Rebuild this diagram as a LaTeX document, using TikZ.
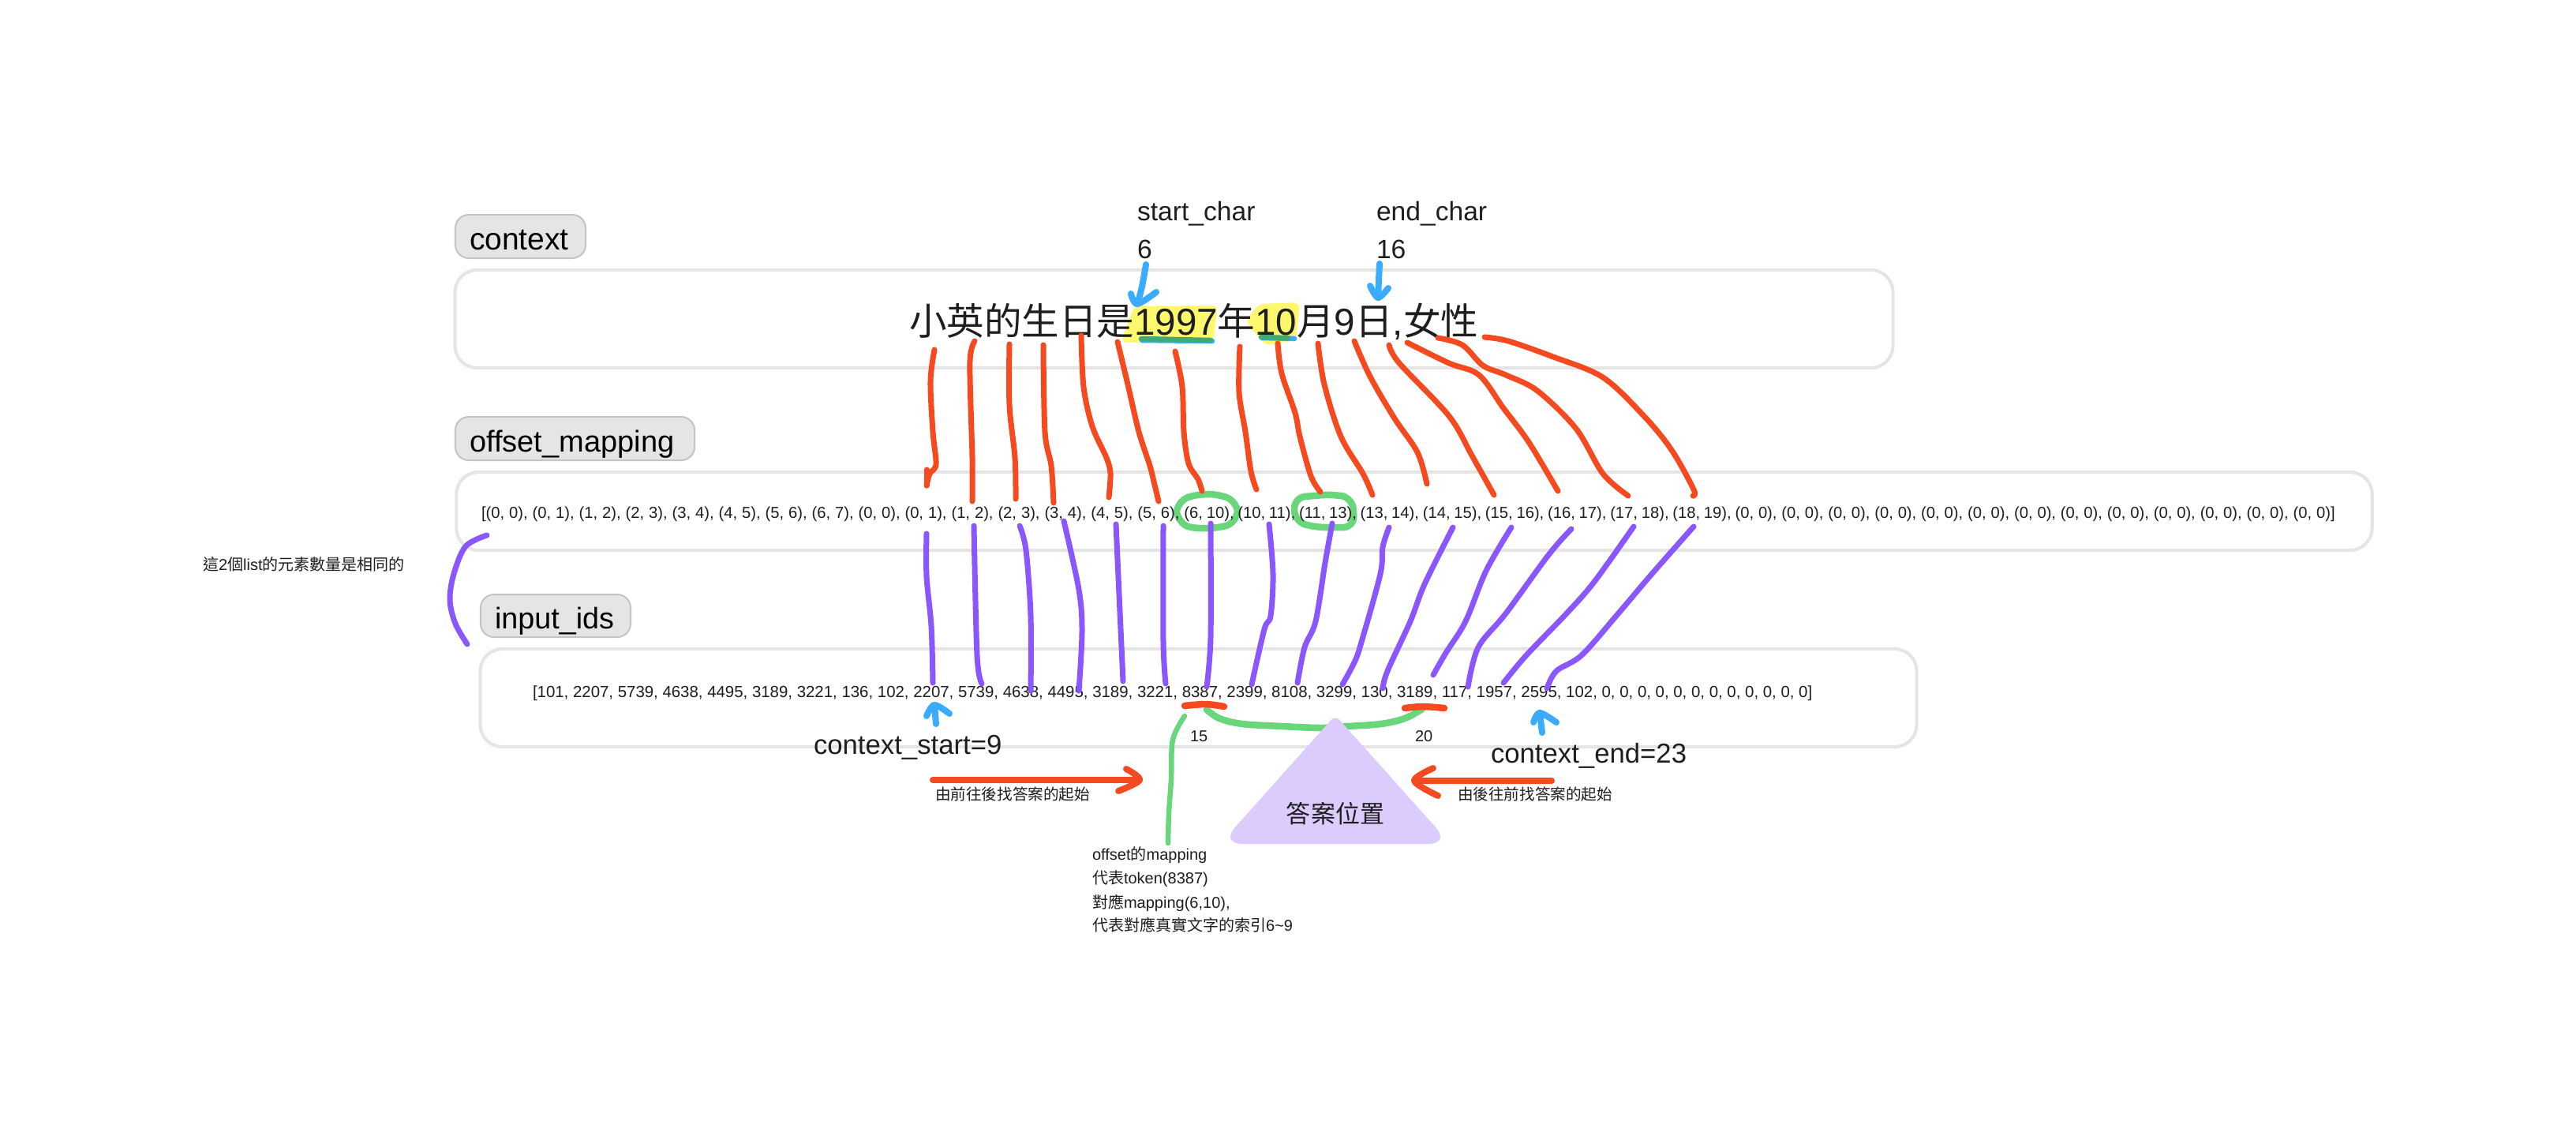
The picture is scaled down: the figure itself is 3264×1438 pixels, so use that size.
\documentclass[tikz,border=0pt]{standalone}
\usepackage{fontspec}
\setmainfont{Liberation Sans}
\newfontfamily\cjk{Noto Sans CJK TC}
\newcommand\fpx[1]{\fontsize{\fpeval{#1*0.28453}}{\fpeval{#1*0.3}}\selectfont}
\definecolor{ink}{HTML}{1E1E1E}
\definecolor{panelline}{HTML}{E5E5E5}
\definecolor{tagline}{HTML}{C4C4C4}
\definecolor{inkred}{HTML}{F54A20}
\definecolor{inkpurple}{HTML}{8A57FF}
\definecolor{inkblue}{HTML}{3BABFF}
\definecolor{inkgreen}{HTML}{69D67B}
\definecolor{inkteal}{HTML}{3FAA75}
\definecolor{marker}{HTML}{FFF86E}
\definecolor{tri}{HTML}{DCCCFE}
\tikzset{
  panel/.style={draw=panelline,line width=0.04cm,rounded corners=0.28cm,fill=white,inner sep=0pt,outer sep=0pt},
  tagbox/.style={draw=tagline,line width=0.02cm,rounded corners=0.17cm,fill=panelline,inner sep=0pt,outer sep=0pt},
  lab/.style={anchor=base west,inner sep=0pt,outer sep=0pt,text=ink},
  stroke/.style={line width=0.07cm,line cap=round,line join=round},
  redline/.style={stroke,draw=inkred},
  redmark/.style={stroke,draw=inkred,line width=0.085cm},
  purpleline/.style={stroke,draw=inkpurple},
  blueline/.style={stroke,draw=inkblue,line width=0.08cm},
  greenline/.style={stroke,draw=inkgreen,line width=0.085cm},
  ink curve/.style={smooth,tension=0.55},
}
\begin{document}
\begin{tikzpicture}[x=0.01cm,y=-0.01cm]
\useasboundingbox (0,0) rectangle (3264,1438);
\fill[white] (0,0) rectangle (3264,1438);

% panels
\node[panel,minimum width=18.21cm,minimum height=1.24cm] (ctxbox) at (1487.5,404) {};
\node[panel,minimum width=24.26cm,minimum height=0.99cm] (mapbox) at (1792,647.5) {};
\node[panel,minimum width=18.19cm,minimum height=1.24cm] (idsbox) at (1518.5,884) {};

% tags
\node[tagbox,minimum width=1.65cm,minimum height=0.55cm] (ctxtag) at (659.5,299.5) {};
\node[tagbox,minimum width=3.03cm,minimum height=0.55cm] (maptag) at (728.5,555.5) {};
\node[tagbox,minimum width=1.90cm,minimum height=0.54cm] (idstag) at (704,780) {};
\node[lab,text=black,font=\fpx{39}] (ctxlab) at (595,316) {context};
\node[lab,text=black,font=\fpx{38}] (maplab) at (595,572) {offset\_mapping};
\node[lab,text=black,font=\fpx{37.7}] (idslab) at (627,796) {input\_ids};

% highlights
\fill[marker,rounded corners=0.08cm] (1437,388) -- (1543,387) -- (1537,433) -- (1420,434) -- cycle;
\fill[marker,rounded corners=0.08cm] (1595,385) -- (1647,383) -- (1642,430) -- (1604,438) -- (1578,407) -- cycle;
\draw[stroke,draw=inkblue,line width=0.065cm] (1447,431) -- (1536,432);
\draw[stroke,draw=inkblue,line width=0.065cm] (1599,428) -- (1640,429);
\draw[stroke,draw=inkteal,line width=0.065cm] (1446,429) -- (1534,431);
\draw[stroke,draw=inkteal,line width=0.065cm] (1598,427) -- (1632,428);

% main sentence
\node[lab,font=\fpx{47.5}] (sentence) at (1152,424) {{\cjk 小英的生日是}1997{\cjk 年}10{\cjk 月}9{\cjk 日},{\cjk 女性}};

% small labels on top
\node[lab,font=\fpx{33.6}] (startchar) at (1441,279) {start\_char};
\node[lab,font=\fpx{33.6}] (startval) at (1441,327) {6};
\node[lab,font=\fpx{33.6}] (endchar) at (1744,279) {end\_char};
\node[lab,font=\fpx{33.6}] (endval) at (1744,327) {16};

% green: curve under triangle, rings, leader
\draw[greenline] plot[ink curve] coordinates {(1529,899) (1545,910) (1574,917) (1625,920) (1673,922) (1708,920) (1750,917) (1780,910) (1802,898)};
\draw[greenline,line width=0.065cm] plot[ink curve] coordinates {(1501,907) (1486,937) (1484,987) (1481,1030) (1480,1068)};
\draw[greenline] plot[ink curve,smooth cycle] coordinates {(1532,626) (1558,632) (1568,648) (1558,664) (1532,669) (1503,666) (1491,648) (1503,631)};
\draw[greenline,rounded corners=0.14cm] (1640,630) -- (1690,626) -- (1714,631) -- (1716,668) -- (1665,668) -- (1640,660) -- cycle;

% lists
\node[lab,font=\fpx{20.2}] (maptext) at (610,656) {{\spaceskip=1.68pt [(0, 0), (0, 1), (1, 2), (2, 3), (3, 4), (4, 5), (5, 6), (6, 7), (0, 0), (0, 1), (1, 2), (2, 3), (3, 4), (4, 5), (5, 6), }{\spaceskip=1.35pt (6, 10), (10, 11), (11, 13), (13, 14), (14, 15), (15, 16), (16, 17), (17, 18), (18, 19), }{\spaceskip=1.67pt (0, 0), (0, 0), (0, 0), (0, 0), (0, 0), (0, 0), (0, 0), (0, 0), (0, 0), (0, 0), (0, 0), (0, 0), (0, 0)]}};
\node[lab,font=\fpx{20.4}] (idstext) at (675,883) {[101, 2207, 5739, 4638, 4495, 3189, 3221, 136, 102, 2207, 5739, 4638, 4495, 3189, 3221, 8387, 2399, 8108, 3299, 130, 3189, 117, 1957, 2595, 102, 0, 0, 0, 0, 0, 0, 0, 0, 0, 0, 0, 0]};

% red strokes context -> offset
\draw[redline] plot[ink curve] coordinates {(1184,443) (1179,483) (1182,547) (1186,588) (1178,600) (1174,615)};
\draw[redline] (1174,615) -- (1174,595);
\draw[redline] plot[ink curve] coordinates {(1235,432) (1229,457) (1231,547) (1232,580) (1232,635)};
\draw[redline] plot[ink curve] coordinates {(1279,436) (1279,513) (1286,580) (1287,632)};
\draw[redline] plot[ink curve] coordinates {(1322,437) (1324,547) (1332,590) (1335,637)};
\draw[redline] plot[ink curve] coordinates {(1370,425) (1373,490) (1384,540) (1402,580) (1407,600) (1405,630)};
\draw[redline] plot[ink curve] coordinates {(1416,433) (1429,487) (1443,547) (1457,590) (1462,610) (1468,635)};
\draw[redline] plot[ink curve] coordinates {(1489,445) (1498,490) (1500,547) (1506,587) (1518,607) (1523,622)};
\draw[redline] plot[ink curve] coordinates {(1571,439) (1570,497) (1578,547) (1585,597) (1592,620)};
\draw[redline] plot[ink curve] coordinates {(1619,435) (1624,473) (1641,523) (1647,553) (1661,603) (1673,623)};
\draw[redline] plot[ink curve] coordinates {(1670,435) (1678,487) (1699,553) (1727,600) (1739,627)};
\draw[redline] plot[ink curve] coordinates {(1716,432) (1736,477) (1767,530) (1796,573) (1808,613)};
\draw[redline] plot[ink curve] coordinates {(1760,437) (1773,460) (1836,527) (1865,577) (1893,627)};
\draw[redline] plot[ink curve] coordinates {(1783,434) (1836,460) (1874,475) (1905,517) (1937,560) (1974,622)};
\draw[redline] plot[ink curve] coordinates {(1822,428) (1853,437) (1879,463) (1908,475) (1948,495) (1997,543) (2031,600) (2063,628)};
\draw[redline] plot[ink curve] coordinates {(1881,427) (1911,432) (1968,452) (2031,478) (2083,527) (2118,570) (2146,620) (2145,628)};

% purple strokes offset -> ids
\draw[purpleline] plot[ink curve] coordinates {(1174,676) (1174,730) (1180,793) (1182,865)};
\draw[purpleline] plot[ink curve] coordinates {(1234,666) (1238,830) (1244,866)};
\draw[purpleline] plot[ink curve] coordinates {(1292,666) (1300,697) (1306,780) (1306,875)};
\draw[purpleline] plot[ink curve] coordinates {(1348,660) (1367,747) (1371,800) (1367,875)};
\draw[purpleline] plot[ink curve] coordinates {(1414,664) (1418,753) (1423,863)};
\draw[purpleline] plot[ink curve] coordinates {(1474,666) (1474,813) (1477,866)};
\draw[purpleline] plot[ink curve] coordinates {(1534,663) (1534,807) (1529,870)};
\draw[purpleline] plot[ink curve] coordinates {(1608,664) (1613,727) (1610,780) (1602,797) (1586,867)};
\draw[purpleline] plot[ink curve] coordinates {(1688,663) (1679,713) (1667,787) (1653,820) (1644,865)};
\draw[purpleline] plot[ink curve] coordinates {(1760,668) (1752,693) (1749,727) (1726,810) (1717,837) (1701,867)};
\draw[purpleline] plot[ink curve] coordinates {(1841,668) (1805,740) (1787,787) (1758,850) (1752,872)};
\draw[purpleline] plot[ink curve] coordinates {(1915,668) (1883,723) (1857,787) (1832,827) (1816,855)};
\draw[purpleline] plot[ink curve] coordinates {(1991,670) (1962,703) (1908,777) (1873,820) (1860,870)};
\draw[purpleline] plot[ink curve] coordinates {(2070,667) (2020,737) (1985,777) (1934,830) (1905,865)};
\draw[purpleline] plot[ink curve] coordinates {(2146,667) (2093,727) (2048,780) (2004,830) (1972,850) (1960,872)};
\draw[purpleline] plot[ink curve] coordinates {(617,678) (590,692) (575,727) (570,760) (577,790) (592,816)};

% red marks under tokens
\draw[redmark] plot[ink curve] coordinates {(1501,894) (1528,892) (1551,895)};
\draw[redmark] plot[ink curve] coordinates {(1780,897) (1803,895) (1830,897)};

% red arrows
\draw[redline,line width=0.08cm] (1182,988) -- (1444,988);
\draw[redline,line width=0.08cm] plot[ink curve] coordinates {(1427,974) (1444,988) (1417,1002)};
\draw[redline,line width=0.08cm] (1966,989) -- (1792,989);
\draw[redline,line width=0.08cm] plot[ink curve] coordinates {(1816,973) (1792,989) (1822,1008)};

% blue arrows
\draw[blueline] plot[ink curve] coordinates {(1452,335) (1447,363) (1441,385)};
\draw[blueline] plot[ink curve] coordinates {(1433,372) (1441,385) (1465,370)};
\draw[blueline] plot[ink curve] coordinates {(1748,334) (1747,355) (1746,377)};
\draw[blueline] plot[ink curve] coordinates {(1736,362) (1746,377) (1759,365)};
\draw[blueline] (1186,917) -- (1184,893);
\draw[blueline] plot[ink curve] coordinates {(1174,907) (1184,893) (1203,904)};
\draw[blueline] (1954,928) -- (1951,903);
\draw[blueline] plot[ink curve] coordinates {(1943,915) (1951,903) (1972,915)};

% triangle
\fill[tri,rounded corners=0.08cm] (1692,906) [rounded corners=0.28cm] -- (1838,1069) -- (1546,1069) [rounded corners=0.08cm] -- cycle;
\node[font=\fpx{31},text=ink,inner sep=0pt] (answer) at (1692,1031) {\cjk 答案位置};

% captions
\node[lab,font=\fpx{34.7}] (ctxstart) at (1031,955) {context\_start=9};
\node[lab,font=\fpx{34.7}] (ctxend) at (1889,966) {context\_end=23};
\node[lab,font=\fpx{20}] (num15) at (1508,939) {15};
\node[lab,font=\fpx{20}] (num20) at (1793,939) {20};
\node[lab,font=\fpx{19.6}] (forward) at (1185,1013) {\cjk 由前往後找答案的起始};
\node[lab,font=\fpx{19.6}] (backward) at (1847,1013) {\cjk 由後往前找答案的起始};
\node[lab,font=\fpx{20}] (note1) at (1384,1089) {offset{\cjk 的}mapping};
\node[lab,font=\fpx{20}] (note2) at (1384,1119) {{\cjk 代表}token(8387)};
\node[lab,font=\fpx{20}] (note3) at (1384,1150) {{\cjk 對應}mapping(6,10),};
\node[lab,font=\fpx{20}] (note4) at (1384,1179) {{\cjk 代表對應真實文字的索引}6\textasciitilde 9};
\node[lab,font=\fpx{20}] (leftnote) at (257,722) {{\cjk 這}2{\cjk 個}list{\cjk 的元素數量是相同的}};
\end{tikzpicture}
\end{document}
